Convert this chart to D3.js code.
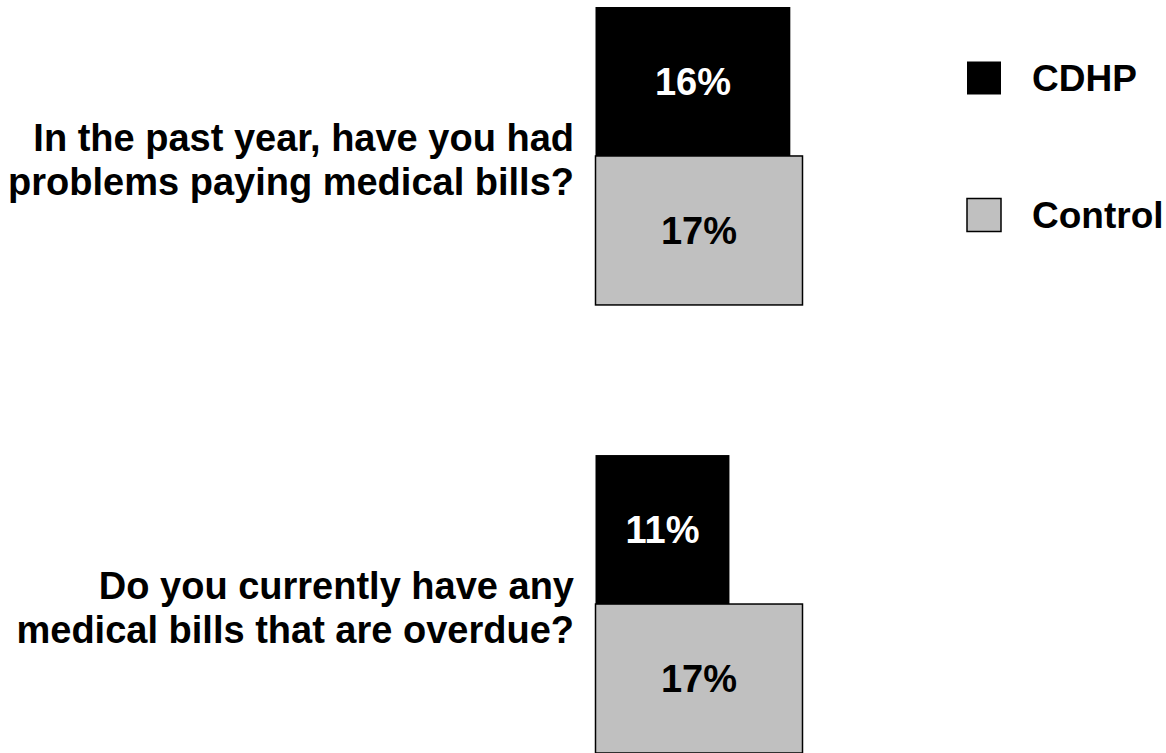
<!DOCTYPE html>
<html>
<head>
<meta charset="utf-8">
<script src="https://cdn.jsdelivr.net/npm/d3@7"></script>
<style>
  html, body { margin: 0; padding: 0; background: #fff; }
  svg { display: block; font-family: "Liberation Sans", Arial, sans-serif; font-weight: bold; }
</style>
</head>
<body>
<svg id="chart" width="1166" height="753"></svg>
<script>
// Survey questions (each split into two display lines)
const questions = [
  ["In the past year, have you had", "problems paying medical bills?"],
  ["Do you currently have any", "medical bills that are overdue?"]
];
const questionKeys = ["q1", "q2"];
const seriesNames = ["CDHP", "Control"];
const cdhpValues = [16, 11];
const controlValues = [17, 17];
const seriesColors = ["#000000", "#c0c0c0"];
const labelColors = ["#ffffff", "#000000"];

const svg = d3.select("#chart");

const x = d3.scaleLinear().domain([0, 17]).range([595.5, 802.5]);
const yGroup = d3.scaleBand().domain(questionKeys).range([7, 753]).paddingInner(0.335).paddingOuter(0);
const ySeries = d3.scaleBand().domain(seriesNames).range([0, yGroup.bandwidth()]).padding(0);

const rows = questionKeys.map((k, i) => ({
  key: k,
  lines: questions[i],
  values: [
    { series: "CDHP", value: cdhpValues[i] },
    { series: "Control", value: controlValues[i] }
  ]
}));

const groups = svg.selectAll("g.group")
  .data(rows)
  .join("g")
  .attr("class", "group")
  .attr("transform", d => `translate(0,${yGroup(d.key)})`);

// Question text, right-aligned to the left of the bars
groups.append("text")
  .attr("text-anchor", "end")
  .attr("font-size", 38)
  .attr("fill", "#000")
  .selectAll("tspan")
  .data(d => d.lines)
  .join("tspan")
  .attr("x", 574)
  .attr("y", (d, i) => yGroup.bandwidth() / 2 + (i - 0.5) * 44 + 17)
  .text(d => d);

// Draw Control first so the CDHP bar sits on top at the shared edge
const bars = groups.selectAll("g.bar")
  .data(d => d.values.slice().reverse())
  .join("g")
  .attr("class", "bar");

bars.append("rect")
  .attr("x", x(0))
  .attr("y", d => ySeries(d.series))
  .attr("width", d => x(d.value) - x(0))
  .attr("height", ySeries.bandwidth())
  .attr("fill", d => seriesColors[seriesNames.indexOf(d.series)])
  .attr("stroke", d => d.series === "Control" ? "#000" : "none")
  .attr("stroke-width", 1.5);

bars.append("text")
  .attr("x", d => (x(0) + x(d.value)) / 2)
  .attr("y", d => ySeries(d.series) + ySeries.bandwidth() / 2)
  .attr("dy", "0.36em")
  .attr("text-anchor", "middle")
  .attr("font-size", 38)
  .attr("fill", d => labelColors[seriesNames.indexOf(d.series)])
  .text(d => d.value + "%");

// Legend
const legendY = d3.scalePoint().domain(seriesNames).range([78, 215]);
const legend = svg.selectAll("g.legend")
  .data(seriesNames)
  .join("g")
  .attr("class", "legend")
  .attr("transform", d => `translate(967,${legendY(d)})`);

legend.append("rect")
  .attr("x", 0)
  .attr("y", -16.5)
  .attr("width", 34)
  .attr("height", 33)
  .attr("fill", (d, i) => seriesColors[i])
  .attr("stroke", (d, i) => i === 1 ? "#000" : "none")
  .attr("stroke-width", 1.5);

legend.append("text")
  .attr("x", 65)
  .attr("y", 0)
  .attr("dy", "0.36em")
  .attr("font-size", 37)
  .attr("fill", "#000")
  .text(d => d);
</script>
</body>
</html>
